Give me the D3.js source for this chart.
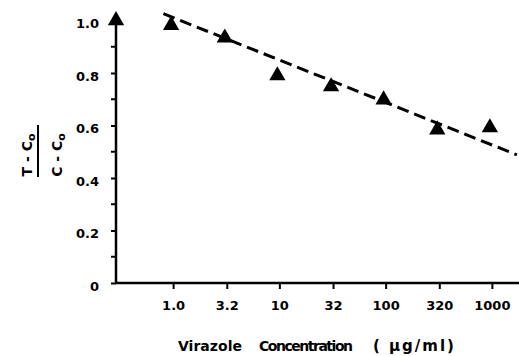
<!DOCTYPE html>
<html>
<head>
<meta charset="utf-8">
<script src="https://cdn.jsdelivr.net/npm/d3@7"></script>
<style>
  html, body { margin: 0; padding: 0; background: #fff; }
  svg { display: block; }
  text { font-family: "DejaVu Sans", sans-serif; font-weight: bold; fill: #000; }
</style>
</head>
<body>
<svg id="chart" width="519" height="356"></svg>
<script>
// concentrations (ug/ml) and measured ratio (T - C0)/(C - C0)
var concentrations = [1.0, 3.2, 10, 32, 100, 320, 1000],
   ratios = [0.982, 0.934, 0.790, 0.748, 0.698, 0.584, 0.592],
   controlRatio = 1.0,
   xTickValues = [1, 3.2, 10, 32, 100, 320, 1000],
   xTickLabels = ["1.0", "3.2", "10", "32", "100", "320", "1000"],
   yTickValues = [0, 0.2, 0.4, 0.6, 0.8, 1.0],
   yTickLabels = ["0", "0.2", "0.4", "0.6", "0.8", "1.0"],
   yMinorTicks = [0.1, 0.3, 0.5, 0.7, 0.9],
   xTitleWords = ["Virazole", "Concentration", "( \u03bcg/ml)"],
   // ends of the dashed regression line
   fitConc = [0.81, 1720],
   fitRatio = [1.026, 0.488];

(function () {
   "use strict";
   var svg = d3.select("#chart"),
      left = 116,
      right = 519,
      bottom = 283,
      topY = 20.5,
      x = d3.scaleLog().domain([0.29, 1800]).range([left, right]),
      y = d3.scaleLinear().domain([0, 1]).range([bottom, topY]),
      wordX = [178, 259, 373],
      wordW = [64, 94, null],
      xAxis,
      yAxis,
      fitLine,
      tri;

   // x axis
   xAxis = svg.append("g")
      .attr("transform", "translate(0," + bottom + ")")
      .call(d3.axisBottom(x)
         .tickValues(xTickValues)
         .tickSizeInner(6)
         .tickSizeOuter(0)
         .tickPadding(12)
         .tickFormat(function (d, i) { return xTickLabels[i]; }));
   xAxis.select(".domain").remove();
   xAxis.selectAll(".tick line").attr("stroke", "#000").attr("stroke-width", 2);
   xAxis.selectAll(".tick text").style("font-size", "13px").attr("font-family", null);

   svg.append("line")
      .attr("x1", left - 1).attr("x2", right)
      .attr("y1", bottom).attr("y2", bottom)
      .attr("stroke", "#000").attr("stroke-width", 2.5);

   // y axis
   yAxis = svg.append("g")
      .attr("transform", "translate(" + left + ",0)")
      .call(d3.axisLeft(y)
         .tickValues(yTickValues)
         .tickSizeInner(5)
         .tickSizeOuter(0)
         .tickPadding(12)
         .tickFormat(function (d, i) { return yTickLabels[i]; }));
   yAxis.select(".domain").remove();
   yAxis.selectAll(".tick line").attr("stroke", "#000").attr("stroke-width", 2);
   yAxis.selectAll(".tick text").style("font-size", "13px").attr("font-family", null).attr("dy", "0.55em");

   svg.append("g").selectAll("line")
      .data(yMinorTicks)
      .enter().append("line")
      .attr("x1", left - 5).attr("x2", left)
      .attr("y1", function (d) { return y(d); })
      .attr("y2", function (d) { return y(d); })
      .attr("stroke", "#000").attr("stroke-width", 2);

   svg.append("line")
      .attr("x1", left).attr("x2", left)
      .attr("y1", bottom + 1).attr("y2", y(controlRatio))
      .attr("stroke", "#000").attr("stroke-width", 2.5);

   // dashed fit line
   fitLine = d3.line()
      .x(function (d) { return x(d[0]); })
      .y(function (d) { return y(d[1]); });

   svg.append("path")
      .datum(d3.zip(fitConc, fitRatio))
      .attr("d", fitLine)
      .attr("fill", "none")
      .attr("stroke", "#000")
      .attr("stroke-width", 3)
      .attr("stroke-dasharray", "12,6");

   // triangles
   tri = d3.symbol().type(d3.symbolTriangle).size(115);

   svg.append("path")
      .attr("d", tri)
      .attr("transform", "translate(" + left + "," + y(controlRatio) + ")")
      .attr("fill", "#000");

   svg.append("g").selectAll("path")
      .data(d3.zip(concentrations, ratios))
      .enter().append("path")
      .attr("d", tri)
      .attr("transform", function (d) {
         return "translate(" + (x(d[0]) - 2) + "," + y(d[1]) + ")";
      })
      .attr("fill", "#000");

   // x axis title, three words spread out as in the figure
   svg.append("g").selectAll("text")
      .data(xTitleWords)
      .enter().append("text")
      .attr("x", function (d, i) { return wordX[i]; })
      .attr("y", 351)
      .attr("textLength", function (d, i) { return wordW[i]; })
      .attr("lengthAdjust", "spacing")
      .style("letter-spacing", function (d, i) { return i === 2 ? "2px" : null; })
      .style("font-size", function (d, i) { return i === 2 ? "15px" : "14px"; })
      .text(function (d) { return d; });

   // y axis title: fraction (T - C0)/(C - C0), rotated
   function fraction(cx, label) {
      var t = svg.append("text")
         .attr("transform", "translate(" + cx + ",155) rotate(-90)")
         .attr("text-anchor", "middle")
         .style("font-size", "14px");
      t.append("tspan").text(label + " - C");
      t.append("tspan").attr("dy", 3).style("font-size", "11px").text("o");
   }
   fraction(32, "T");
   fraction(62, "C");

   svg.append("line")
      .attr("x1", 38).attr("x2", 38)
      .attr("y1", 125).attr("y2", 177)
      .attr("stroke", "#000").attr("stroke-width", 2);
}());
</script>
</body>
</html>
